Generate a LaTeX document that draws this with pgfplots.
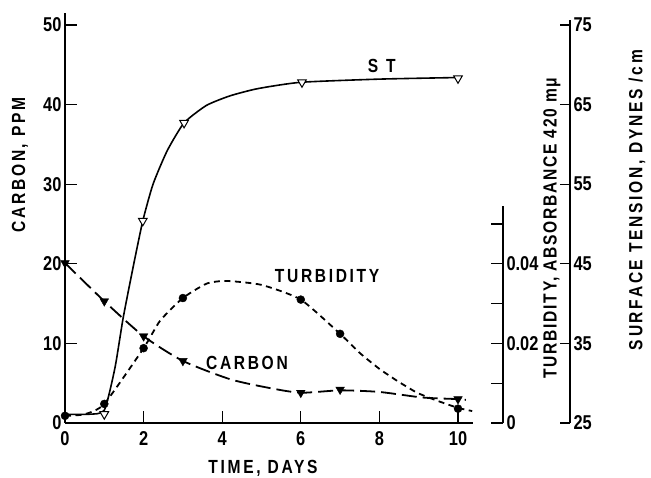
\documentclass[border=0pt]{standalone}
\usepackage{fontspec}
\setmainfont{Liberation Sans}[FakeStretch=0.82, UprightFont=*-Bold]
\newfontfamily\labfont{Liberation Sans}[FakeStretch=0.82, UprightFont=*-Bold, LetterSpace=14]
\newfontfamily\labfontb{Liberation Sans}[FakeStretch=0.82, UprightFont=*-Bold, LetterSpace=9]
\usepackage{pgfplots}
\pgfplotsset{compat=1.18}
\usepackage{pgfplotstable}
\newcommand\tk{\fontsize{20}{24}\selectfont}
\newcommand\lb{\labfont\fontsize{19}{24}\selectfont}
\newcommand\lbb{\labfontb\fontsize{19}{24}\selectfont}

% Carbon, ppm
\pgfplotstableread{
day val
0 20.1
1 15.3
2 10.9
3 7.8
6 3.8
7 4.2
10 3.0
}\carbonpts
\pgfplotstableread{
day val
0 20.1
1 15.3
2 10.9
3 7.8
4.2 5.5
5.2 4.4
6 3.8
7 4.1
8 3.9
9.1 3.2
10 3.0
10.2 2.9
}\carbonline
% Turbidity, absorbance 420 m-mu
\pgfplotstableread{
day val
0 0.0018
1 0.0048
2 0.0188
3 0.0314
6 0.0310
7 0.0224
10 0.0036
}\turbpts
\pgfplotstableread{
day val
0 0.0018
0.5 0.0022
1 0.0048
2 0.0188
2.42 0.0257
3 0.0314
3.6 0.0350
4.1 0.0357
5.0 0.0347
6 0.0310
7 0.0224
7.5 0.0176
8 0.0136
8.45 0.0106
8.96 0.0076
9.47 0.0056
10 0.0038
10.36 0.0030
}\turbline
% Surface tension, dynes/cm
\pgfplotstableread{
day val
1 26.1
1.98 50.4
3.03 62.7
6.03 67.8
10 68.3
}\stpts
\pgfplotstableread{
day val
0 26.1
0.6 26.1
1.0 26.6
1.27 31.9
1.48 38.2
1.73 44.5
1.98 50.4
2.24 55.0
2.6 59.2
3.03 62.7
3.6 64.9
4.2 66.1
4.9 67.0
6 67.8
8 68.2
10 68.4
}\stline

\begin{document}
\begin{tikzpicture}
\useasboundingbox (-65pt,-55pt) rectangle (586pt,423pt);
% main axis: carbon
\begin{axis}[
  at={(0pt,0pt)}, anchor=south west,
  x=39.3pt, y=7.96pt,
  xmin=0, xmax=10.38, ymin=0, ymax=51.5,
  axis x line*=bottom, axis y line*=left,
  axis line style={-, line width=1.2pt},
  tick align=inside, major tick length=12pt,
  tick style={line width=1.2pt, black},
  xtick={0,2,4,6,8,10}, ytick={0,10,20,30,40,50},
  tick label style={font=\tk},
  xticklabel style={yshift=-5pt},
  /pgf/number format/assume math mode=true,
  clip=false,
]
\addplot[black, line width=1.8pt, dash pattern=on 15pt off 6pt, smooth, tension=0.4]
  table[x=day, y=val] {\carbonline};
\addplot[only marks, mark=triangle*, mark size=5pt, mark options={rotate=180, fill=black, solid}]
  table[x=day, y=val] {\carbonpts};
\node[font=\lb] at (axis cs:8.06,44.8) {S\hspace{8pt}T};
\node[font=\lb] at (axis cs:6.67,18.4) {TURBIDITY};
\node[font=\lb] at (axis cs:4.63,7.5) {CARBON};
\end{axis}
% turbidity axis
\begin{axis}[
  at={(0pt,0pt)}, anchor=south west,
  x=39.3pt, y=3980pt,
  xmin=0, xmax=11.145, ymin=0, ymax=0.0545,
  hide x axis, axis y line*=right,
  axis line style={-, line width=1.2pt},
  tick align=inside, major tick length=12pt,
  tick style={line width=1.2pt, black},
  ytick={0,0.01,0.02,0.03,0.04,0.05},
  yticklabels={0,,0.02,,0.04,},
  scaled y ticks=false,
  tick label style={font=\tk},
  clip=false,
]
\addplot[black, line width=1.8pt, dash pattern=on 6pt off 4.5pt, smooth, tension=0.35]
  table[x=day, y=val] {\turbline};
\addplot[only marks, mark=*, mark size=4pt, mark options={fill=black, solid}]
  table[x=day, y=val] {\turbpts};
\end{axis}
% surface tension axis
\begin{axis}[
  at={(0pt,0pt)}, anchor=south west,
  x=39.3pt, y=7.96pt,
  xmin=0, xmax=12.85, ymin=25, ymax=75.6,
  hide x axis, axis y line*=right,
  axis line style={-, line width=1.2pt},
  tick align=inside, major tick length=10pt,
  tick style={line width=1.2pt, black},
  ytick={25,35,45,55,65,75},
  tick label style={font=\tk},
  /pgf/number format/assume math mode=true,
  clip=false,
]
\addplot[black, line width=1.6pt, smooth, tension=0.35]
  table[x=day, y=val] {\stline};
\addplot[only marks, mark=triangle*, mark size=5pt, mark options={rotate=180, fill=white, draw=black, line width=1pt, solid}]
  table[x=day, y=val] {\stpts};
\end{axis}
\node[rotate=90, font=\lb] at (-45pt,258pt) {CARBON, PPM};
\node[font=\lb] at (198pt,-45pt) {TIME, DAYS};
\node[rotate=90, font=\lbb] at (487pt,195pt) {TURBIDITY, ABSORBANCE 420 mμ};
\node[rotate=90, font=\lb] at (572pt,223pt) {SURFACE TENSION, DYNES /cm};
\end{tikzpicture}
\end{document}
